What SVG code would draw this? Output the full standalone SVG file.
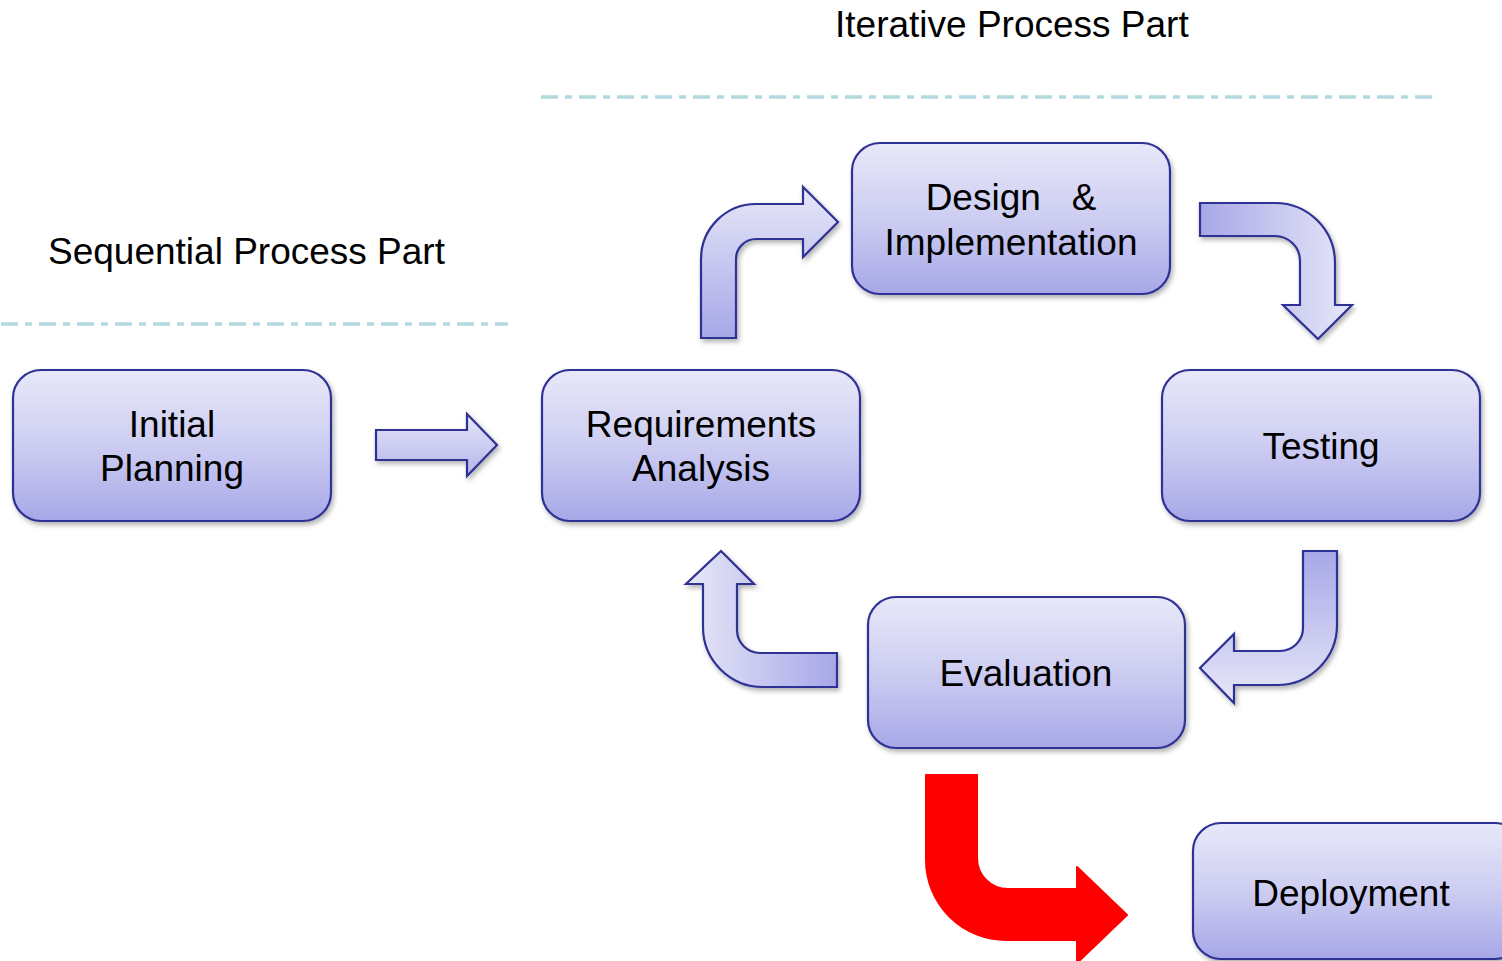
<svg xmlns="http://www.w3.org/2000/svg" width="1502" height="961" viewBox="0 0 1502 961">
<defs>
<linearGradient id="gbox" x1="0" y1="0" x2="0" y2="1">
<stop offset="0" stop-color="#e8e8f9"/>
<stop offset="0.5" stop-color="#cdcdf2"/>
<stop offset="1" stop-color="#a7a7e8"/>
</linearGradient>
<linearGradient id="gUp" gradientUnits="userSpaceOnUse" x1="0" y1="338" x2="0" y2="190">
<stop offset="0" stop-color="#a7a7e8"/>
<stop offset="1" stop-color="#e6e6f8"/>
</linearGradient>
<linearGradient id="gRight" gradientUnits="userSpaceOnUse" x1="1200" y1="0" x2="1340" y2="0">
<stop offset="0" stop-color="#a7a7e8"/>
<stop offset="1" stop-color="#e2e2f7"/>
</linearGradient>
<linearGradient id="gDown" gradientUnits="userSpaceOnUse" x1="0" y1="551" x2="0" y2="700">
<stop offset="0" stop-color="#a7a7e8"/>
<stop offset="1" stop-color="#e6e6f8"/>
</linearGradient>
<linearGradient id="gLeft" gradientUnits="userSpaceOnUse" x1="837" y1="0" x2="690" y2="0">
<stop offset="0" stop-color="#a7a7e8"/>
<stop offset="1" stop-color="#e6e6f8"/>
</linearGradient>
<linearGradient id="gStraight" x1="0" y1="0" x2="0" y2="1">
<stop offset="0" stop-color="#e6e6f8"/>
<stop offset="1" stop-color="#b4b4ec"/>
</linearGradient>
<filter id="sh" x="-10%" y="-10%" width="125%" height="130%">
<feDropShadow dx="2" dy="3" stdDeviation="2.5" flood-color="#000" flood-opacity="0.3"/>
</filter>
</defs>
<style>
.box{fill:url(#gbox);stroke:#2f3194;stroke-width:2.2;}
.arr{stroke:#2f3194;stroke-width:2.2;stroke-linejoin:miter;}
.t{font-family:"Liberation Sans",Arial,sans-serif;font-size:37px;fill:#000;text-anchor:middle;}
.title{font-family:"Liberation Sans",Arial,sans-serif;font-size:37px;fill:#000;}
.sep{stroke:#b3d9de;stroke-width:3.5;fill:none;stroke-dasharray:17 7 7 7;}
</style>
<rect width="1502" height="961" fill="#fff"/>
<text class="title" x="48" y="264">Sequential Process Part</text>
<text class="title" x="835" y="37">Iterative Process Part</text>
<line class="sep" x1="1" y1="324" x2="508" y2="324"/>
<line class="sep" x1="541" y1="97" x2="1437" y2="97"/>
<g id="connectors">
<path class="arr" fill="url(#gStraight)" filter="url(#sh)" d="M376,430 L467,430 L467,414 L497,445 L467,476 L467,460 L376,460 Z"/>
<path class="arr" fill="url(#gUp)" filter="url(#sh)" d="M701,338 L701,259 A55,55 0 0 1 756,204 L803,204 L803,187 L838,222 L803,257 L803,239 L756,239 A20,20 0 0 0 736,259 L736,338 Z"/>
<path class="arr" fill="url(#gRight)" filter="url(#sh)" d="M1200,203 L1275,203 A60,60 0 0 1 1335,263 L1335,305 L1352,305 L1318,339 L1283,305 L1300,305 L1300,261 A25,25 0 0 0 1275,236 L1200,236 Z"/>
<path class="arr" fill="url(#gDown)" filter="url(#sh)" d="M1303,551 L1337,551 L1337,625 A60,60 0 0 1 1277,685 L1234,685 L1234,703 L1200,668 L1234,634 L1234,651 L1280,651 A23,23 0 0 0 1303,628 Z"/>
<path class="arr" fill="url(#gLeft)" filter="url(#sh)" d="M837,653 L760,653 A23,23 0 0 1 737,630 L737,584 L754,584 L721,551 L686,584 L703,584 L703,627 A60,60 0 0 0 763,687 L837,687 Z"/>
<path fill="#ff0000" stroke="#ff0000" stroke-width="2" stroke-linejoin="round" d="M926,775 L977,775 L977,858 A31,31 0 0 0 1008,889 L1077,889 L1077,867 L1127,915 L1077,963 L1077,940 L1006,940 A80,80 0 0 1 926,860 Z"/>
</g>
<g id="initial-planning">
<rect class="box" filter="url(#sh)" x="13" y="370" width="318" height="151" rx="28"/>
<text class="t" x="172" y="437">Initial</text>
<text class="t" x="172" y="481">Planning</text>
</g>
<g id="requirements-analysis">
<rect class="box" filter="url(#sh)" x="542" y="370" width="318" height="151" rx="28"/>
<text class="t" x="701" y="437">Requirements</text>
<text class="t" x="701" y="481">Analysis</text>
</g>
<g id="design-implementation">
<rect class="box" filter="url(#sh)" x="852" y="143" width="318" height="151" rx="28"/>
<text class="t" x="1011" y="210" xml:space="preserve">Design   &amp;</text>
<text class="t" x="1011" y="255">Implementation</text>
</g>
<g id="testing">
<rect class="box" filter="url(#sh)" x="1162" y="370" width="318" height="151" rx="28"/>
<text class="t" x="1321" y="459">Testing</text>
</g>
<g id="evaluation">
<rect class="box" filter="url(#sh)" x="868" y="597" width="317" height="151" rx="28"/>
<text class="t" x="1026" y="686">Evaluation</text>
</g>
<g id="deployment">
<rect class="box" filter="url(#sh)" x="1193" y="823" width="330" height="136" rx="28"/>
<text class="t" x="1351" y="906">Deployment</text>
</g>
</svg>
